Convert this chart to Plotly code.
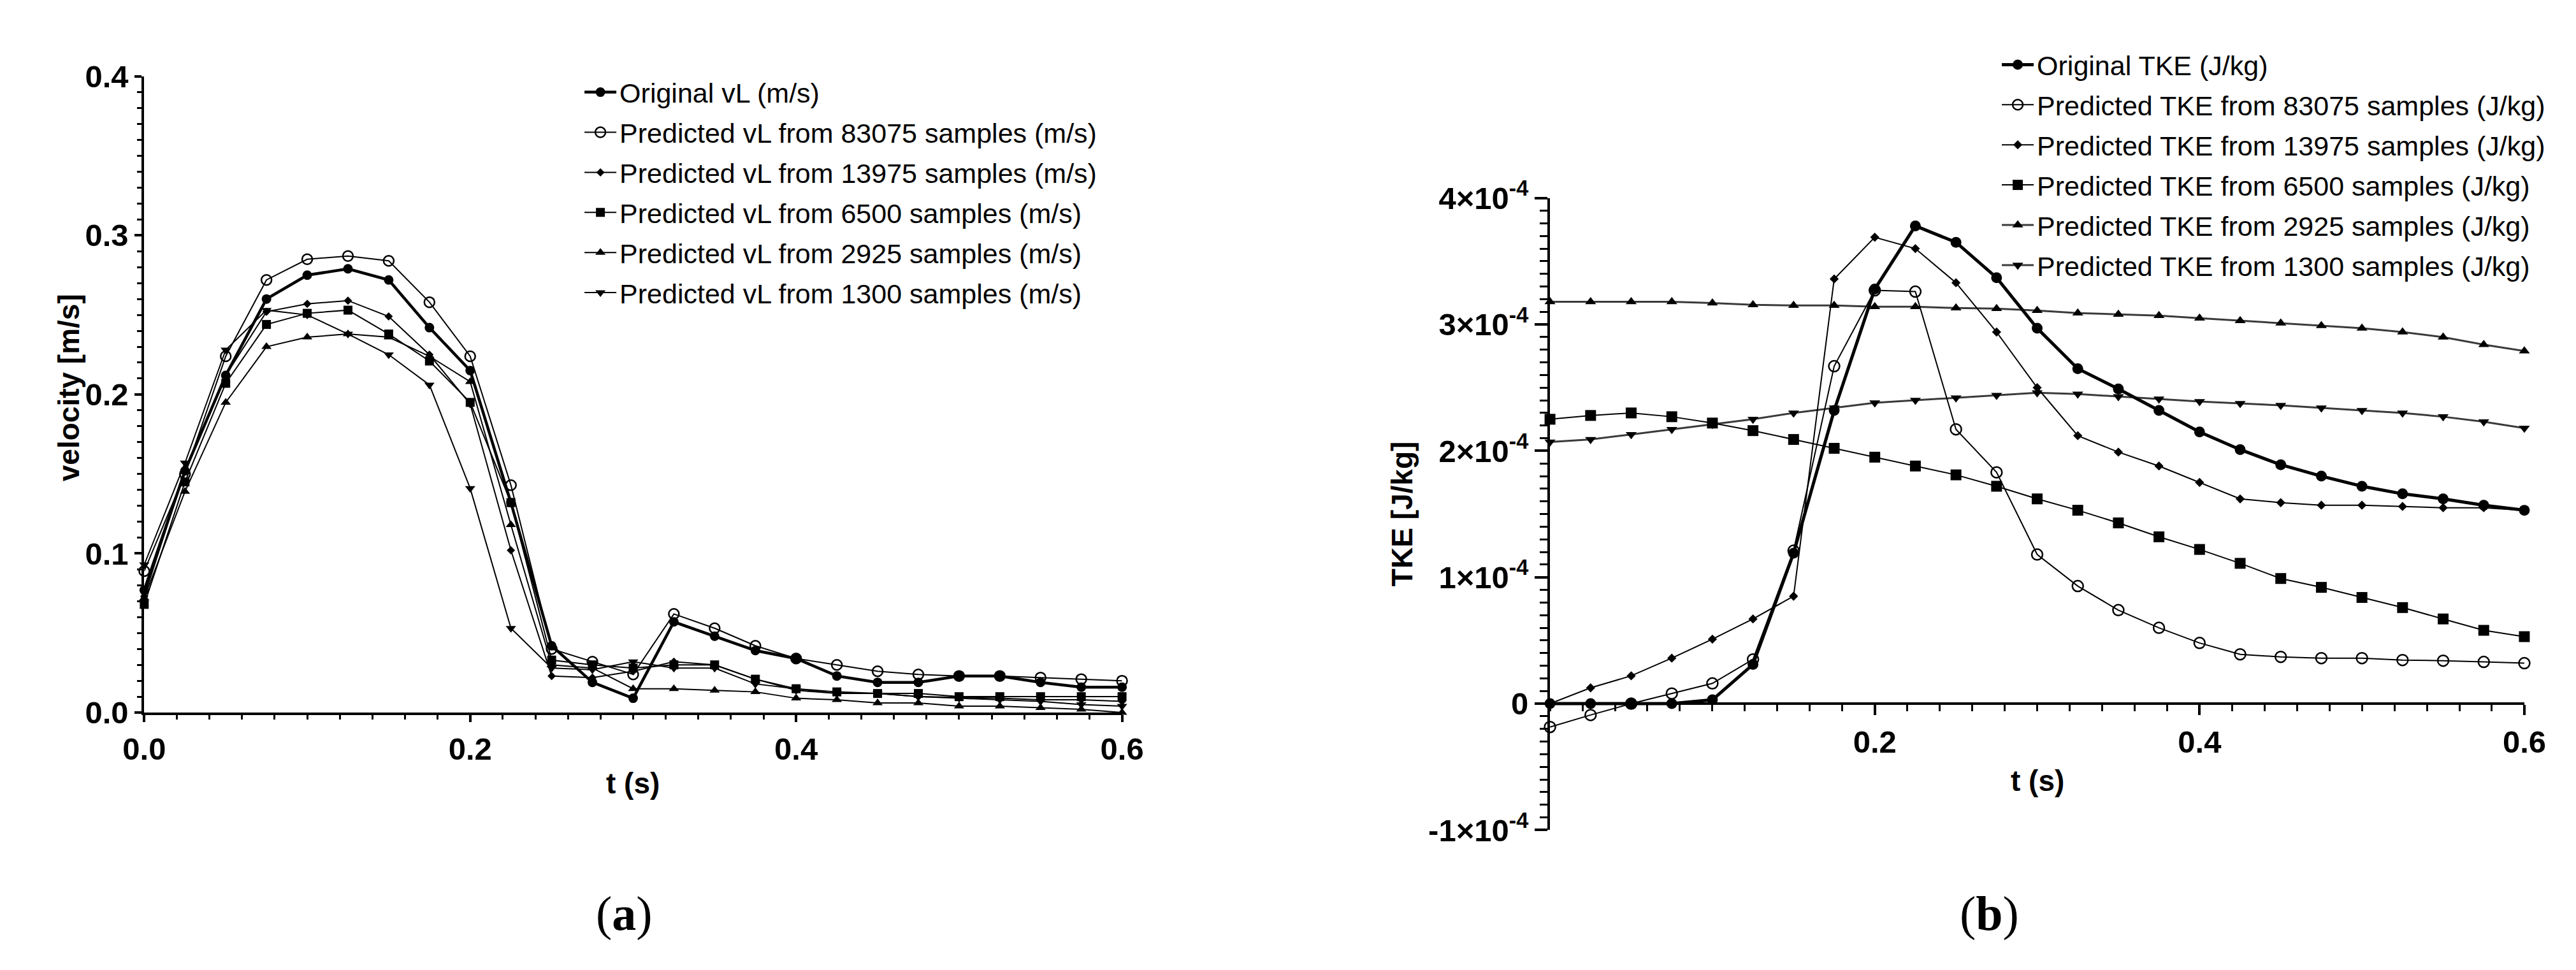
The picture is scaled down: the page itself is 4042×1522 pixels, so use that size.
import plotly.graph_objects as go

# ---------------- data ----------------
t = [0.0, 0.025, 0.05, 0.075, 0.1, 0.125, 0.15, 0.175, 0.2, 0.225, 0.25, 0.275, 0.3,
     0.325, 0.35, 0.375, 0.4, 0.425, 0.45, 0.475, 0.5, 0.525, 0.55, 0.575, 0.6]

vl_original = [0.077, 0.152, 0.212, 0.260, 0.275, 0.279, 0.272, 0.242, 0.215, 0.132, 0.042, 0.019, 0.009,
               0.057, 0.048, 0.039, 0.034, 0.023, 0.019, 0.019, 0.023, 0.023, 0.019, 0.016, 0.016]
vl_83075 = [0.089, 0.150, 0.224, 0.272, 0.285, 0.287, 0.284, 0.258, 0.224, 0.143, 0.040, 0.032, 0.024,
            0.062, 0.053, 0.042, 0.034, 0.030, 0.026, 0.024, 0.023, 0.023, 0.022, 0.021, 0.020]
vl_13975 = [0.073, 0.152, 0.212, 0.252, 0.257, 0.259, 0.249, 0.225, 0.194, 0.102, 0.023, 0.022, 0.026,
            0.032, 0.030, 0.021, 0.014, 0.012, 0.012, 0.010, 0.0095, 0.009, 0.008, 0.008, 0.007]
vl_6500 = [0.068, 0.145, 0.207, 0.244, 0.251, 0.253, 0.238, 0.221, 0.195, 0.132, 0.033, 0.030, 0.028,
           0.030, 0.030, 0.021, 0.015, 0.013, 0.012, 0.012, 0.010, 0.010, 0.010, 0.010, 0.010]
vl_2925 = [0.072, 0.139, 0.195, 0.230, 0.236, 0.238, 0.236, 0.224, 0.208, 0.118, 0.030, 0.028, 0.015,
           0.015, 0.014, 0.013, 0.009, 0.008, 0.006, 0.006, 0.004, 0.004, 0.003, 0.002, 0.000]
vl_1300 = [0.093, 0.157, 0.228, 0.253, 0.250, 0.238, 0.225, 0.206, 0.141, 0.053, 0.028, 0.027, 0.032,
           0.028, 0.028, 0.018, 0.015, 0.012, 0.012, 0.010, 0.009, 0.008, 0.007, 0.005, 0.004]

tke_original = [0.0, 0.0, 0.0, 0.0, 0.03e-4, 0.31e-4, 1.19e-4, 2.32e-4, 3.28e-4, 3.78e-4, 3.65e-4, 3.37e-4, 2.97e-4,
                2.65e-4, 2.49e-4, 2.32e-4, 2.15e-4, 2.01e-4, 1.89e-4, 1.80e-4, 1.72e-4, 1.66e-4, 1.62e-4, 1.57e-4, 1.53e-4]
tke_83075 = [-0.185e-4, -0.09e-4, 0.0, 0.08e-4, 0.16e-4, 0.35e-4, 1.21e-4, 2.67e-4, 3.27e-4, 3.26e-4, 2.17e-4, 1.83e-4, 1.18e-4,
             0.93e-4, 0.74e-4, 0.60e-4, 0.48e-4, 0.39e-4, 0.37e-4, 0.36e-4, 0.36e-4, 0.345e-4, 0.34e-4, 0.33e-4, 0.32e-4]
tke_13975 = [0.0, 0.125e-4, 0.22e-4, 0.36e-4, 0.51e-4, 0.67e-4, 0.85e-4, 3.36e-4, 3.69e-4, 3.60e-4, 3.33e-4, 2.94e-4, 2.50e-4,
             2.12e-4, 1.99e-4, 1.88e-4, 1.75e-4, 1.62e-4, 1.59e-4, 1.57e-4, 1.57e-4, 1.56e-4, 1.55e-4, 1.55e-4, 1.53e-4]
tke_6500 = [2.25e-4, 2.28e-4, 2.30e-4, 2.27e-4, 2.22e-4, 2.16e-4, 2.09e-4, 2.02e-4, 1.95e-4, 1.88e-4, 1.81e-4, 1.72e-4, 1.62e-4,
            1.53e-4, 1.43e-4, 1.32e-4, 1.22e-4, 1.11e-4, 0.99e-4, 0.92e-4, 0.84e-4, 0.76e-4, 0.67e-4, 0.58e-4, 0.53e-4]
tke_2925 = [3.18e-4, 3.18e-4, 3.18e-4, 3.18e-4, 3.17e-4, 3.155e-4, 3.15e-4, 3.15e-4, 3.14e-4, 3.14e-4, 3.13e-4, 3.125e-4, 3.11e-4,
            3.09e-4, 3.08e-4, 3.07e-4, 3.05e-4, 3.03e-4, 3.01e-4, 2.99e-4, 2.97e-4, 2.94e-4, 2.90e-4, 2.84e-4, 2.79e-4]
tke_1300 = [2.07e-4, 2.09e-4, 2.13e-4, 2.17e-4, 2.21e-4, 2.25e-4, 2.30e-4, 2.34e-4, 2.38e-4, 2.40e-4, 2.42e-4, 2.44e-4, 2.46e-4,
            2.45e-4, 2.43e-4, 2.41e-4, 2.39e-4, 2.375e-4, 2.36e-4, 2.34e-4, 2.32e-4, 2.30e-4, 2.27e-4, 2.23e-4, 2.18e-4]

vl_names = ["Original vL (m/s)",
            "Predicted vL from 83075 samples (m/s)",
            "Predicted vL from 13975 samples (m/s)",
            "Predicted vL from 6500 samples (m/s)",
            "Predicted vL from 2925 samples (m/s)",
            "Predicted vL from 1300 samples (m/s)"]
tke_names = ["Original TKE (J/kg)",
             "Predicted TKE from 83075 samples (J/kg)",
             "Predicted TKE from 13975 samples (J/kg)",
             "Predicted TKE from 6500 samples (J/kg)",
             "Predicted TKE from 2925 samples (J/kg)",
             "Predicted TKE from 1300 samples (J/kg)"]

xl_tickvals = [0.0, 0.2, 0.4, 0.6]
xl_ticktext = ["0.0", "0.2", "0.4", "0.6"]
xr_tickvals = [0.2, 0.4, 0.6]
xr_ticktext = ["0.2", "0.4", "0.6"]
vl_tickvals = [0.0, 0.1, 0.2, 0.3, 0.4]
vl_ticktext = ["0.0", "0.1", "0.2", "0.3", "0.4"]
tke_tickvals = [-1e-4, 0.0, 1e-4, 2e-4, 3e-4, 4e-4]
tke_ticktext = ["-1×10<sup>-4</sup>", "0", "1×10<sup>-4</sup>", "2×10<sup>-4</sup>",
                "3×10<sup>-4</sup>", "4×10<sup>-4</sup>"]

# ---------------- styles ----------------
FONT = "Arial, Liberation Sans, sans-serif"
W, H = 4042, 1522

styles_left = [
    dict(symbol="circle", size=15, lw=4.5, col="black"),
    dict(symbol="circle-open", size=16, lw=2, col="black"),
    dict(symbol="diamond", size=10, lw=2, col="black"),
    dict(symbol="square", size=14, lw=2, col="black"),
    dict(symbol="triangle-up", size=14, lw=2, col="black"),
    dict(symbol="triangle-down", size=14, lw=2, col="black"),
]
styles_right = [
    dict(symbol="circle", size=17, lw=5, col="black"),
    dict(symbol="circle-open", size=17, lw=2, col="black"),
    dict(symbol="diamond", size=11, lw=2, col="black"),
    dict(symbol="square", size=17, lw=2, col="black"),
    dict(symbol="triangle-up", size=15, lw=3, col="#3a3a3a"),
    dict(symbol="triangle-down", size=15, lw=3, col="#3a3a3a"),
]

fig = go.Figure()

vl_series = [vl_original, vl_83075, vl_13975, vl_6500, vl_2925, vl_1300]
tke_series = [tke_original, tke_83075, tke_13975, tke_6500, tke_2925, tke_1300]


def add_series(xs, ys, name, s, xa, ya, leg, group, rank):
    fig.add_trace(go.Scatter(
        x=xs, y=ys, name=name, mode="lines+markers",
        xaxis=xa, yaxis=ya, legend=leg, legendgroup=group, legendrank=rank,
        line=dict(color=s["col"], width=s["lw"]),
        marker=dict(symbol=s["symbol"], size=s["size"], color="black",
                    line=dict(color="black", width=2.5 if s["symbol"] == "circle-open" else 0)),
        cliponaxis=False,
    ))


order = [5, 4, 3, 2, 1, 0]  # draw the original series last (on top)
for i in order:
    add_series(t, vl_series[i], vl_names[i], styles_left[i], "x", "y", "legend", "a%d" % i, i + 1)
for i in order:
    add_series(t, tke_series[i], tke_names[i], styles_right[i], "x2", "y2", "legend2", "b%d" % i, i + 1)

# ---------------- geometry (paper fractions) ----------------
L_x0, L_x1 = 187.5 / W, 1748 / W
L_y0, L_y1 = 1 - 1121 / H, 1 - 81 / H
R_x0, R_x1 = 2431 / W, 3986 / W
R_y0, R_y1 = 1 - 1313 / H, 1 - 280 / H
R_zero = R_y0 + (R_y1 - R_y0) * (0 - (-1e-4)) / (4e-4 - (-1e-4))

tickfont = dict(family=FONT, size=49, color="black", weight="bold")
axis_common = dict(showgrid=False, zeroline=False, showline=True, linecolor="black", linewidth=4,
                   ticks="outside", tickcolor="black", tickwidth=4, tickfont=tickfont,
                   tickmode="array")

legend_font = dict(family=FONT, size=43, color="black")

fig.update_layout(
    width=W, height=H, margin=dict(l=0, r=0, t=0, b=0),
    paper_bgcolor="white", plot_bgcolor="white",
    xaxis=dict(domain=[L_x0, L_x1], range=[0, 0.6], anchor="y", tickvals=xl_tickvals,
               ticktext=xl_ticktext, ticklen=11,
               minor=dict(tickmode="linear", tick0=0, dtick=0.02, ticks="outside", ticklen=7,
                          tickwidth=3, tickcolor="black"),
               **axis_common),
    yaxis=dict(domain=[L_y0, L_y1], range=[0, 0.4], anchor="x", tickvals=vl_tickvals,
               ticktext=vl_ticktext, ticklen=11,
               minor=dict(tickmode="linear", tick0=0, dtick=0.01, ticks="outside", ticklen=7,
                          tickwidth=3, tickcolor="black"),
               **axis_common),
    xaxis2=dict(domain=[R_x0, R_x1], range=[0, 0.6], anchor="free", position=R_zero,
                tickvals=xr_tickvals, ticktext=xr_ticktext, ticklen=16,
                minor=dict(tickmode="linear", tick0=0, dtick=0.02, ticks="outside", ticklen=10,
                           tickwidth=3, tickcolor="black"),
                **axis_common),
    yaxis2=dict(domain=[R_y0, R_y1], range=[-1e-4, 4e-4], anchor="x2", tickvals=tke_tickvals,
                ticktext=tke_ticktext, ticklen=20,
                minor=dict(tickmode="linear", tick0=0, dtick=1e-5, ticks="outside", ticklen=12,
                           tickwidth=3, tickcolor="black"),
                **axis_common),
    legend=dict(x=885 / W, y=1 - 71 / H, xanchor="left", yanchor="top",
                font=legend_font, bgcolor="rgba(0,0,0,0)",
                traceorder="grouped", tracegroupgap=4, itemwidth=50),
    legend2=dict(x=3147 / W, y=1 - 26 / H, xanchor="left", yanchor="top",
                 font=legend_font, bgcolor="rgba(0,0,0,0)",
                 traceorder="grouped", tracegroupgap=4, itemwidth=50),
    showlegend=True,
)

title_font = dict(family=FONT, size=46, color="black", weight="bold")
caption_font = dict(family="Liberation Serif, Times New Roman, serif", size=76, color="black")
annotations = [
    dict(text="t (s)", x=(L_x0 + L_x1) / 2, y=1 - 1237 / H, font=title_font),
    dict(text="t (s)", x=(R_x0 + R_x1) / 2, y=1 - 1232 / H, font=title_font),
    dict(text="velocity [m/s]", x=67 / W, y=1 - 590 / H, font=title_font, textangle=-90),
    dict(text="TKE [J/kg]", x=2195 / W, y=1 - 797 / H, font=title_font, textangle=-90),
    dict(text="(<b>a</b>)", x=954 / W, y=1 - 1450 / H, font=caption_font),
    dict(text="(<b>b</b>)", x=3132 / W, y=1 - 1450 / H, font=caption_font),
]
for a in annotations:
    a.update(xref="paper", yref="paper", showarrow=False, xanchor="center", yanchor="middle")
fig.update_layout(annotations=annotations)

fig.write_html("out.html")
